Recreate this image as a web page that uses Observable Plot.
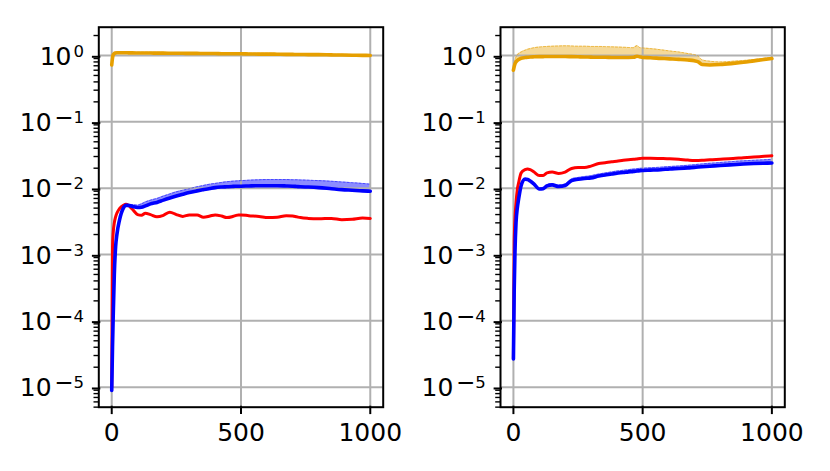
<!DOCTYPE html>
<html><head><meta charset="utf-8">
<script src="https://cdn.jsdelivr.net/npm/d3@7"></script>
<script src="https://cdn.jsdelivr.net/npm/@observablehq/plot@0.6"></script>
<style>
html,body{margin:0;padding:0;background:#fff;}
#fig{position:relative;width:830px;height:471px;overflow:hidden;background:#fff;}
#fig svg{position:absolute;top:0;}
</style></head><body><div id="fig"></div>
<script>
const steps = [0, 3, 6, 10, 15, 20, 30, 45, 55, 65, 80, 100, 115, 130, 150, 175, 200, 225, 250, 275, 300, 330, 355, 380, 400, 425, 445, 465, 478, 490, 500, 530, 570, 605, 640, 675, 700, 715, 730, 760, 800, 850, 890, 930, 970, 1000];

const leftOrange = [0.72,0.92,1.03,1.07,1.09, 1.10,1.10,1.10,1.10,1.095, 1.095,1.09,1.09,1.09,1.09, 1.085,1.085,1.08,1.08,1.08, 1.075,1.075,1.07,1.07,1.07, 1.065,1.065,1.06,1.06,1.06, 1.06,1.055,1.05,1.05,1.045, 1.04,1.04,1.035,1.035,1.03, 1.03,1.02,1.015,1.01,1.005, 1.0];
const leftOrangeHi = [0.72,0.93,1.05,1.10,1.12, 1.13,1.13,1.13,1.13,1.125, 1.125,1.12,1.12,1.12,1.12, 1.115,1.115,1.11,1.11,1.11, 1.105,1.105,1.10,1.10,1.10, 1.095,1.095,1.09,1.09,1.09, 1.09,1.085,1.08,1.08,1.075, 1.07,1.07,1.065,1.065,1.06, 1.055,1.045,1.04,1.035,1.03, 1.025];
const leftRed = [1e-5,1.3e-3,2.2e-3,3.0e-3,3.7e-3, 4.2e-3,4.9e-3,5.5e-3,5.7e-3,5.5e-3, 4.8e-3,4.0e-3,3.9e-3,4.2e-3,4.0e-3, 3.7e-3,3.9e-3,4.35e-3,4.0e-3,3.75e-3, 3.95e-3,3.95e-3,3.65e-3,3.8e-3,3.95e-3, 3.8e-3,3.6e-3,3.7e-3,3.85e-3,3.95e-3, 3.95e-3,3.85e-3,3.75e-3,3.6e-3,3.65e-3, 3.85e-3,3.8e-3,3.7e-3,3.6e-3,3.5e-3, 3.45e-3,3.5e-3,3.35e-3,3.4e-3,3.55e-3, 3.5e-3];
const leftBlue = [8.9e-6,4e-5,1.3e-4,5e-4,1.3e-3, 2.0e-3,3.3e-3,5.0e-3,5.5e-3,5.5e-3, 5.3e-3,5.1e-3,5.15e-3,5.4e-3,5.8e-3, 6.1e-3,6.6e-3,7.1e-3,7.6e-3,8.1e-3, 8.6e-3,9.1e-3,9.5e-3,9.9e-3,1.02e-2, 1.04e-2,1.05e-2,1.06e-2,1.07e-2,1.07e-2, 1.07e-2,1.08e-2,1.09e-2,1.09e-2,1.09e-2, 1.08e-2,1.07e-2,1.06e-2,1.05e-2,1.04e-2, 1.02e-2,9.8e-3,9.5e-3,9.3e-3,9.1e-3, 9.0e-3];
const leftBlueHi = [8.9e-6,4e-5,1.3e-4,5e-4,1.3e-3, 2.0e-3,3.3e-3,5.0e-3,5.5e-3,5.65e-3, 5.65e-3,5.55e-3,5.8e-3,6.2e-3,6.6e-3, 7.0e-3,7.6e-3,8.2e-3,8.8e-3,9.3e-3, 9.8e-3,1.05e-2,1.1e-2,1.15e-2,1.18e-2, 1.22e-2,1.25e-2,1.27e-2,1.28e-2,1.29e-2, 1.3e-2,1.32e-2,1.34e-2,1.35e-2,1.35e-2, 1.35e-2,1.34e-2,1.34e-2,1.33e-2,1.32e-2, 1.3e-2,1.27e-2,1.24e-2,1.21e-2,1.18e-2, 1.15e-2];

const rightOrange = [0.60,0.68,0.75,0.80,0.84, 0.87,0.91,0.93,0.94,0.95, 0.955,0.96,0.962,0.965,0.965, 0.966,0.965,0.96,0.955,0.95, 0.945,0.94,0.94,0.935,0.935, 0.935,0.935,0.94,0.975,0.95, 0.935,0.925,0.905,0.89,0.875, 0.855,0.83,0.80,0.73,0.72, 0.73,0.76,0.79,0.83,0.87, 0.90];
const rightOrangeHi = [0.60,0.75,0.85,0.95,1.02, 1.07,1.13,1.20,1.24,1.27, 1.31,1.34,1.36,1.37,1.38, 1.39,1.40,1.39,1.38,1.38, 1.37,1.37,1.36,1.35,1.34, 1.33,1.32,1.31,1.41,1.31, 1.30,1.27,1.22,1.17,1.13, 1.07,1.03,0.98,0.86,0.82, 0.80,0.82,0.84,0.87,0.91, 0.94];
const rightRed = [2.7e-5,1.5e-3,3.5e-3,6.0e-3,9.5e-3, 1.2e-2,1.7e-2,1.9e-2,1.95e-2,1.9e-2, 1.75e-2,1.55e-2,1.55e-2,1.7e-2,1.75e-2, 1.67e-2,1.75e-2,1.98e-2,2.05e-2,2.05e-2, 2.15e-2,2.35e-2,2.42e-2,2.5e-2,2.55e-2, 2.63e-2,2.68e-2,2.72e-2,2.76e-2,2.8e-2, 2.83e-2,2.83e-2,2.8e-2,2.77e-2,2.72e-2, 2.65e-2,2.62e-2,2.62e-2,2.63e-2,2.68e-2, 2.73e-2,2.8e-2,2.88e-2,2.95e-2,3.02e-2, 3.08e-2];
const rightBlue = [2.66e-5,2.9e-4,1.1e-3,3.0e-3,5.0e-3, 6.8e-3,1.1e-2,1.37e-2,1.35e-2,1.28e-2, 1.15e-2,9.7e-3,9.8e-3,1.08e-2,1.12e-2, 1.06e-2,1.1e-2,1.3e-2,1.36e-2,1.4e-2, 1.43e-2,1.52e-2,1.58e-2,1.63e-2,1.68e-2, 1.72e-2,1.76e-2,1.79e-2,1.82e-2,1.84e-2, 1.85e-2,1.87e-2,1.9e-2,1.95e-2,1.98e-2, 2.02e-2,2.06e-2,2.08e-2,2.1e-2,2.14e-2, 2.2e-2,2.26e-2,2.31e-2,2.35e-2,2.38e-2, 2.4e-2];
const rightBlueHi = [2.66e-5,2.9e-4,1.1e-3,3.0e-3,5.0e-3, 6.8e-3,1.1e-2,1.37e-2,1.38e-2,1.32e-2, 1.19e-2,1.01e-2,1.03e-2,1.13e-2,1.17e-2, 1.12e-2,1.16e-2,1.38e-2,1.45e-2,1.5e-2, 1.54e-2,1.63e-2,1.7e-2,1.76e-2,1.81e-2, 1.86e-2,1.9e-2,1.94e-2,1.97e-2,1.99e-2, 2.0e-2,2.03e-2,2.07e-2,2.12e-2,2.16e-2, 2.21e-2,2.26e-2,2.29e-2,2.32e-2,2.37e-2, 2.44e-2,2.52e-2,2.58e-2,2.63e-2,2.68e-2, 2.72e-2];

const xTicks = [0, 500, 1000];
const yExponents = [-5, -4, -3, -2, -1, 0];
const minorMultipliers = [2, 3, 4, 5, 6, 7, 8, 9];

const xDomain = [-50, 1050];
const yDomain = [4.99e-6, 2.67];
const colors = {orange: "#e69f00", red: "#ff0000", blue: "#0000ff"};

const majorTicks = yExponents.map(e => Math.pow(10, e));
const minorTicks = [];
for (const e of [-6, ...yExponents]) for (const m of minorMultipliers) {
  const v = m * Math.pow(10, e);
  if (v > yDomain[0] && v < yDomain[1]) minorTicks.push(v);
}

function panel(s, left, marginLeft, marginRight) {
  const rows = steps.map((x, i) => ({x, orange: s.orange[i], orangeHi: s.orangeHi[i], red: s.red[i], blue: s.blue[i], blueHi: s.blueHi[i]}));
  const curve = "monotone-x";
  const svg = Plot.plot({
    width: 415, height: 471,
    marginLeft, marginRight, marginTop: 26.7, marginBottom: 64.3,
    style: {fontFamily: "DejaVu Sans", fontSize: "25px", color: "black", background: "transparent", overflow: "visible"},
    x: {domain: xDomain, label: null},
    y: {type: "log", domain: yDomain, label: null},
    marks: [
      Plot.areaY(rows, {x: "x", y1: "blue", y2: "blueHi", fill: colors.blue, fillOpacity: 0.45, curve}),
      Plot.areaY(rows, {x: "x", y1: "orange", y2: "orangeHi", fill: colors.orange, fillOpacity: 0.4, curve}),
      Plot.gridX(xTicks, {stroke: "#b0b0b0", strokeOpacity: 1, strokeWidth: 2}),
      Plot.gridY(majorTicks, {stroke: "#b0b0b0", strokeOpacity: 1, strokeWidth: 2}),
      Plot.line(rows, {x: "x", y: "blueHi", stroke: colors.blue, strokeOpacity: 0.5, strokeWidth: 1, strokeDasharray: "2,2", curve}),
      Plot.line(rows, {x: "x", y: "orangeHi", stroke: colors.orange, strokeOpacity: 0.6, strokeWidth: 1, strokeDasharray: "2,2", curve}),
      Plot.line(rows, {x: "x", y: "red", stroke: colors.red, strokeWidth: 3, curve}),
      Plot.line(rows, {x: "x", y: "blue", stroke: colors.blue, strokeWidth: 3.6, curve}),
      Plot.line(rows, {x: "x", y: "orange", stroke: colors.orange, strokeWidth: 3.6, curve}),
      Plot.axisX(xTicks, {tickSize: 8.4, tickPadding: 8.4, strokeWidth: 2, label: null, dy: -1, fontSize: 25,
        fontFamily: "DejaVu Sans", tickFormat: d3.format("d")}),
      Plot.axisY(minorTicks, {tickSize: 4.8, strokeWidth: 1.4, fill: "none", label: null}),
      Plot.axisY(majorTicks, {tickSize: 8.4, tickPadding: 8.4, strokeWidth: 2, label: null, dy: 1.3, dx: 2, fontSize: 25,
        fontFamily: "DejaVu Sans", tickFormat: d => "10^" + Math.round(Math.log10(d))}),
      Plot.frame({stroke: "black", strokeWidth: 2})
    ]
  });
  d3.select(svg).selectAll('g[aria-label="y-axis tick label"] text').each(function() {
    const t = this.textContent;
    const parts = t.split("^");
    if (parts.length !== 2) return;
    const sel = d3.select(this);
    sel.text(parts[0]);
    const neg = parts[1].startsWith("-");
    const digits = parts[1].replace("-", "");
    if (neg) {
      sel.append("tspan").attr("font-size", 23).attr("dx", 2.6).attr("dy", -6.6).text("\u2212");
      sel.append("tspan").attr("font-size", 16.5).attr("dy", -1.4).text(digits);
    } else {
      sel.append("tspan").attr("font-size", 16.5).attr("dx", 2).attr("dy", -8).text(digits);
    }
  });
  svg.style.left = left + "px";
  return svg;
}

const fig = document.getElementById("fig");
fig.appendChild(panel({orange: leftOrange, orangeHi: leftOrangeHi, red: leftRed, blue: leftBlue, blueHi: leftBlueHi}, 0, 98.3, 32.3));
fig.appendChild(panel({orange: rightOrange, orangeHi: rightOrangeHi, red: rightRed, blue: rightBlue, blueHi: rightBlueHi}, 415, 85, 45.7));
</script>
</body></html>
